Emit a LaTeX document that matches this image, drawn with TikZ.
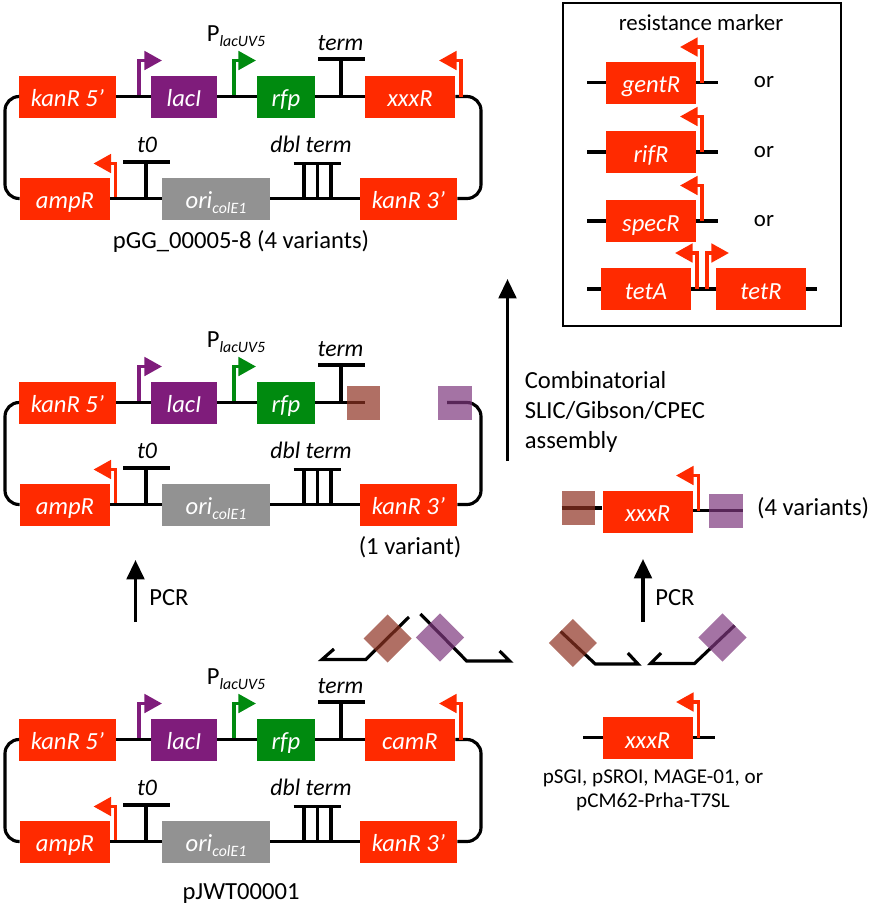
\documentclass[tikz,border=0pt]{standalone}
\usepackage{fontspec}
\setmainfont{Carlito}
\usetikzlibrary{arrows.meta}
\definecolor{genered}{HTML}{FF2A00}
\definecolor{genepurple}{HTML}{7F1C7B}
\definecolor{genegreen}{HTML}{008A0F}
\definecolor{genegrey}{HTML}{929292}
\definecolor{homolbrown}{HTML}{8E3222}
\definecolor{homolpurple}{HTML}{7E377E}
\tikzset{
    wire/.style={line width=1.8pt, black},
    bigarrow/.style={line width=1.9pt, -{Triangle[length=11pt,width=10pt]}},
    promoter/.style={line width=2pt, -{Triangle[length=10pt,width=10.5pt]}},
    gene/.style={fill=genered, text=white, inner sep=0pt, minimum height=0.84cm,
        text height=13pt, text depth=1.6pt,
        minimum width=#1*0.02cm, font=\fontsize{14}{16}\selectfont\itshape},
    label/.style={inner sep=0pt, font=\fontsize{14}{17}\selectfont},
    part/.style={inner sep=0pt, font=\fontsize{13.5}{15}\selectfont\itshape},
    homolbox/.style={inner sep=0pt, minimum size=0.68cm, opacity=0.7},
    homoldiamond/.style={homolbox, rotate=45}
}
\newcommand{\subtext}[1]{\raisebox{-0.45ex}{\fontsize{9}{10}\selectfont\itshape #1}}
\begin{document}
\begin{tikzpicture}[x=0.02cm, y=-0.02cm]
    \useasboundingbox (0,0) rectangle (882,904);

    % Plasmids
    \foreach \id/\dy in {a/0, b/306, c/643} {
        \begin{scope}[shift={(0,\dy)}]
            \node[gene=97] (kanfive\id) at (67.5,96.5) {kanR 5’};
            \node[gene=66, fill=genepurple] (laci\id) at (184,96.5) {lacI\hspace{0.15cm}};
            \node[gene=58, fill=genegreen] (rfp\id) at (286,96.5) {rfp\hspace{0.1cm}};
            \node[gene=97] (kanthree\id) at (408.5,198.5) {kanR 3’};
            \node[gene=108, fill=genegrey] (ori\id) at (216,198.5) {ori\subtext{colE1}\hspace{0.4cm}};
            \node[gene=90] (amp\id) at (65,198.5) {ampR\hspace{0.15cm}};

            \coordinate (left\id) at (5,150);
            \coordinate (right\id) at (481,150);

            % Promoters
            \coordinate (ppur\id) at (139,96.5);
            \coordinate (ppurtip\id) at (162,60.5);
            \coordinate (pgrn\id) at (234,96.5);
            \coordinate (pgrntip\id) at (256,60.5);
            \coordinate (pamp\id) at (115.5,198.5);
            \coordinate (pamptip\id) at (93.5,163.5);
            \draw[promoter, genepurple] (ppur\id) |- (ppurtip\id);
            \draw[promoter, genegreen] (pgrn\id) |- (pgrntip\id);
            \draw[promoter, genered] (pamp\id) |- (pamptip\id);

            % Terminators
            \coordinate (term\id) at (341,96.5);
            \coordinate (termtop\id) at (341,59);
            \coordinate (tzero\id) at (146,198.5);
            \coordinate (tzerotop\id) at (146,162);
            \draw[wire] (term\id) -- (termtop\id) ++(-23,0) -- ++(47,0);
            \draw[wire] (tzero\id) -- (tzerotop\id) ++(-23,0) -- ++(47,0);
            \coordinate (dbl\id) at (317.5,198.5);
            \coordinate (dbltop\id) at (317.5,163.5);
            \draw[wire] (dbl\id) -- (dbltop\id) ++(-24,0) -- ++(47,0);
            \draw[wire] (dbl\id) ++(-13.5,0) -- ++(0,-35);
            \draw[wire] (dbl\id) ++(13.5,0) -- ++(0,-35);

            % Wires
            \draw[wire] (kanfive\id) -- (laci\id);
            \draw[wire] (laci\id) -- (rfp\id);
            \draw[wire] (rfp\id) -- (term\id);
            \draw[wire, rounded corners=8pt] (kanfive\id) -| (left\id) |- (amp\id);
            \draw[wire] (amp\id) -- (ori\id);
            \draw[wire] (ori\id) -- (kanthree\id);

            \node[part] (termlab\id) at (340.5,43) {term};
            \node[part] (tzerolab\id) at (147,145) {t0};
            \node[part] (dbllab\id) at (311,144) {dbl term};
            \node[label] (plac\id) at (236,36) {P\subtext{lacUV5}};
        \end{scope}
    }

    % Marker of the top and bottom plasmid
    \foreach \id/\dy/\marker in {a/0/xxxR, c/643/camR} {
        \begin{scope}[shift={(0,\dy)}]
            \node[gene=90] (marker\id) at (410,96.5) {\marker};
            \coordinate (pmark\id) at (461,96.5);
            \coordinate (pmarktip\id) at (439,60.5);
            \draw[wire] (term\id) -- (marker\id);
            \draw[wire, rounded corners=8pt] (marker\id) -| (right\id) |- (kanthree\id);
            \draw[promoter, genered] (pmark\id) |- (pmarktip\id);
        \end{scope}
    }

    % Opened plasmid
    \coordinate (openl) at (365,402.5);
    \coordinate (openr) at (447,402.5);
    \draw[wire] (termb) -- (openl);
    \draw[wire, rounded corners=8pt] (openr) -| (rightb) |- (kanthreeb);
    \node[homolbox, fill=homolbrown] (brownb) at (363.5,403) {};
    \node[homolbox, fill=homolpurple] (purpleb) at (455,403) {};

    \node[label] (capa) at (241,241) {pGG\_00005-8 (4 variants)};
    \node[label] (capb) at (410,547) {(1 variant)};
    \node[label] (capc) at (241,893) {pJWT00001};

    % Arrows
    \coordinate (pcrlfrom) at (135.5,622);
    \coordinate (pcrlto) at (135.5,560);
    \draw[bigarrow] (pcrlfrom) -- (pcrlto);
    \node[label, anchor=west] (pcrl) at (149,598) {PCR};
    \coordinate (asmfrom) at (507.5,461);
    \coordinate (asmto) at (507.5,279);
    \draw[bigarrow] (asmfrom) -- (asmto);
    \node[label, anchor=west, align=left] (asm) at (524.5,412)
        {Combinatorial\\SLIC/Gibson/CPEC\\assembly};
    \coordinate (pcrrfrom) at (643,622);
    \coordinate (pcrrto) at (643,559);
    \draw[bigarrow] (pcrrfrom) -- (pcrrto);
    \node[label, anchor=west] (pcrr) at (655,598) {PCR};

    % Resistance markers
    \node[draw, line width=0.9pt, inner sep=0pt, minimum width=278*0.02cm, minimum height=323*0.02cm] (panel) at (702,164.5) {};
    \node[label, font=\fontsize{13}{15}\selectfont] (panellab) at (701,23) {resistance marker};
    \foreach \id/\marker/\wy in {gent/gentR/82.5, rif/rifR/152, spec/specR/221} {
        \coordinate (\id l) at (587,\wy);
        \coordinate (\id r) at (718,\wy);
        \draw[wire] (\id l) -- (\id r);
        \node[gene=90] (\id) at (651,\wy) {\marker};
        \coordinate (p\id) at (702,\wy);
        \coordinate (p\id tip) at (680,\wy-35.5);
        \draw[promoter, genered] (p\id) |- (p\id tip);
        \node[label, font=\fontsize{13}{15}\selectfont] (or\id) at (764,\wy) {or};
    }
    \coordinate (tetl) at (587,289);
    \coordinate (tetr) at (817,289);
    \draw[wire] (tetl) -- (tetr);
    \node[gene=90] (teta) at (646,289) {tetA};
    \node[gene=90] (tetb) at (761,289) {tetR};
    \coordinate (pteta) at (697,289);
    \coordinate (ptetatip) at (675,253);
    \coordinate (ptetb) at (707,289);
    \coordinate (ptetbtip) at (729,253);
    \draw[promoter, genered] (pteta) |- (ptetatip);
    \draw[promoter, genered] (ptetb) |- (ptetbtip);

    % Insert
    \coordinate (insl) at (561.5,508);
    \coordinate (insr) at (743,510.5);
    \node[gene=90] (ins) at (647.7,511.5) {xxxR};
    \draw[wire] (insl) -- (ins.west |- insl);
    \draw[wire] (ins.east |- insr) -- (insr);
    \coordinate (pins) at (698.5,510.5);
    \coordinate (pinstip) at (676,475.5);
    \draw[promoter, genered] (pins) |- (pinstip);
    \node[homolbox, fill=homolbrown] (insbrown) at (578.5,508) {};
    \node[homolbox, fill=homolpurple] (inspurple) at (726,510.5) {};
    \node[label, anchor=west] (inscap) at (756.7,508) {(4 variants)};

    % Template
    \coordinate (tpll) at (583,737.5);
    \coordinate (tplr) at (715,737.5);
    \draw[wire] (tpll) -- (tplr);
    \node[gene=90] (tpl) at (647.7,738) {xxxR};
    \coordinate (ptpl) at (698.5,737.5);
    \coordinate (ptpltip) at (676,702);
    \draw[promoter, genered] (ptpl) |- (ptpltip);
    \node[label, align=center, font=\fontsize{12}{13.6}\selectfont] (tplcap) at (653,790)
        {pSGI, pSROI, MAGE-01, or\\pCM62-Prha-T7SL};

    % Primers
    \coordinate (pa0) at (334,649);
    \coordinate (pa1) at (322,659.5);
    \coordinate (pa2) at (365.8,659.5);
    \coordinate (pa3) at (409,617);
    \draw[wire] (pa0) -- (pa1) -- (pa2) -- (pa3);
    \node[homoldiamond, fill=homolbrown] (pabox) at (387.6,638.5) {};
    \coordinate (pb0) at (499.5,651);
    \coordinate (pb1) at (509.7,661);
    \coordinate (pb2) at (466.7,661);
    \coordinate (pb3) at (420.4,614);
    \draw[wire] (pb0) -- (pb1) -- (pb2) -- (pb3);
    \node[homoldiamond, fill=homolpurple] (pbbox) at (440,637.5) {};
    \coordinate (pc0) at (627.8,653);
    \coordinate (pc1) at (638,664);
    \coordinate (pc2) at (595.3,664);
    \coordinate (pc3) at (560.7,631.5);
    \draw[wire] (pc0) -- (pc1) -- (pc2) -- (pc3);
    \node[homoldiamond, fill=homolbrown] (pcbox) at (572.8,643) {};
    \coordinate (pd0) at (661,653);
    \coordinate (pd1) at (650.7,663.5);
    \coordinate (pd2) at (694.5,663.5);
    \coordinate (pd3) at (734.6,625.5);
    \draw[wire] (pd0) -- (pd1) -- (pd2) -- (pd3);
    \node[homoldiamond, fill=homolpurple] (pdbox) at (722.5,637.5) {};
\end{tikzpicture}
\end{document}
